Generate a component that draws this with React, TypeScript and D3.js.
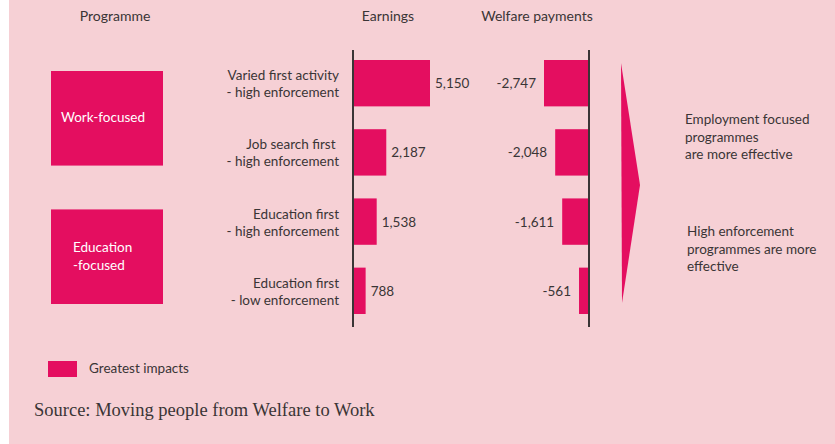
import * as d3 from 'd3';

const programmes = [
  ['Varied first activity', '- high enforcement'],
  ['Job search first\u00a0', '- high enforcement'],
  ['Education first', '- high enforcement'],
  ['Education first', '- low enforcement'],
];
const earnings = [5150, 2187, 1538, 788];
const welfare = [-2747, -2048, -1611, -561];
const groups = [
  { lines: ['Work-focused'], rows: [0, 1] },
  { lines: ['Education', '-focused'], rows: [2, 3] },
];
const notes = [
  ['Employment focused', 'programmes', 'are more effective'],
  ['High enforcement', 'programmes are more', 'effective'],
];

const width = 835;
const height = 444;
const pink = '#f6d0d5';
const magenta = '#e40e60';
const ink = '#3a3536';
const font = 'Lato, "Open Sans", sans-serif';

export default function App() {
  const y = d3
    .scaleBand<number>()
    .domain(d3.range(programmes.length))
    .range([60, 314])
    .paddingInner(0.33)
    .paddingOuter(0);

  const earnX = 354;
  const welfX = 588;
  const xe = d3.scaleLinear([0, d3.max(earnings)!], [0, 76]);
  const xw = d3.scaleLinear([0, d3.max(welfare, (d) => -d)!], [0, 44]);
  const fmt = (v: number) => d3.format(',')(v).replace('\u2212', '-');

  const bw = y.bandwidth();
  const cy = (i: number) => y(i)! + bw / 2;

  return (
    <div style={{ position: 'absolute', left: 0, top: 0 }}>
      <svg width={width} height={height} style={{ display: 'block' }} fontFamily={font}>
        <rect width={width} height={height} fill="#fff" />
        <rect x={9} width={width - 9} height={height} fill={pink} />

        <g fill={ink} fontSize={14} textAnchor="middle">
          <text x={115} y={21}>Programme</text>
          <text x={388} y={21}>Earnings</text>
          <text x={537} y={21}>Welfare payments</text>
        </g>

        {groups.map((g, k) => {
          const top = y(g.rows[0])! + 11;
          const bottom = y(g.rows[1])! + bw - 10;
          const mid = (top + bottom) / 2;
          return (
            <g key={k}>
              <rect x={51} y={top} width={112} height={bottom - top} fill={magenta} />
              {g.lines.map((t, j) => (
                <text
                  key={j}
                  x={g.lines.length > 1 ? 73 : 61}
                  y={mid + 4 + (j - (g.lines.length - 1) / 2) * 18}
                  fill="#fff"
                  fontSize={13.5}
                >
                  {t}
                </text>
              ))}
            </g>
          );
        })}

        <g fill={ink} fontSize={13.5} textAnchor="end">
          {programmes.map((lines, i) => (
            <g key={i}>
              <text x={339} y={cy(i) - 3}>{lines[0]}</text>
              <text x={339} y={cy(i) + 14}>{lines[1]}</text>
            </g>
          ))}
        </g>

        <g>
          {earnings.map((v, i) => (
            <g key={i}>
              <rect x={earnX} y={y(i)} width={xe(v)} height={bw} fill={magenta} />
              <text x={earnX + xe(v) + 5} y={cy(i) + 5} fill={ink} fontSize={13.5}>
                {fmt(v)}
              </text>
            </g>
          ))}
          {welfare.map((v, i) => (
            <g key={i}>
              <rect x={welfX - xw(-v)} y={y(i)} width={xw(-v)} height={bw} fill={magenta} />
              <text
                x={welfX - xw(-v) - 8}
                y={cy(i) + 5}
                fill={ink}
                fontSize={13.5}
                textAnchor="end"
              >
                {fmt(v)}
              </text>
            </g>
          ))}
          <line x1={earnX - 1} x2={earnX - 1} y1={50} y2={327} stroke={ink} strokeWidth={2} />
          <line x1={welfX + 1} x2={welfX + 1} y1={50} y2={327} stroke={ink} strokeWidth={2} />
        </g>

        <path d="M621,63 L640,185 L622,303 Z" fill={magenta} />

        <g fill={ink} fontSize={13.5}>
          {notes.map((lines, k) =>
            lines.map((t, j) => (
              <text key={`${k}-${j}`} x={685 + k * 2} y={124 + k * 112 + j * 17.5}>
                {t}
              </text>
            ))
          )}
        </g>

        <rect x={48} y={361} width={29} height={16} fill={magenta} />
        <text x={89} y={373} fill={ink} fontSize={13.5}>
          Greatest impacts
        </text>

        <text
          x={34}
          y={416}
          fill={ink}
          fontSize={18.5}
          fontFamily='"Liberation Serif", "DejaVu Serif", serif'
        >
          Source: Moving people from Welfare to Work
        </text>
      </svg>
    </div>
  );
}
